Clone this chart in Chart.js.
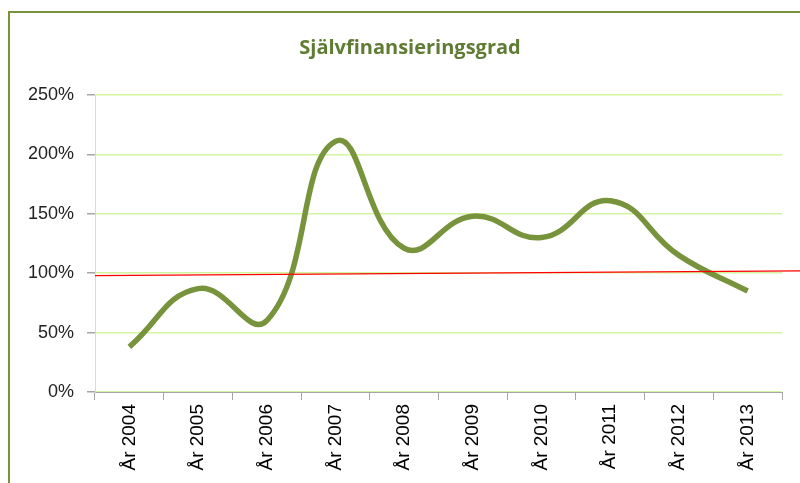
<!DOCTYPE html>
<html>
<head>
<meta charset="utf-8">
<script src="https://cdn.jsdelivr.net/npm/chart.js@4"></script>
<style>
  html, body { margin: 0; padding: 0; background: #fff; overflow: hidden; }
  #wrap { position: relative; width: 800px; height: 483px; }
  #frame { position: absolute; left: 8px; top: 11px; width: 900px; height: 600px;
           border-left: 2px solid #77933C; border-top: 2px solid #77933C; }
  canvas { position: absolute; left: 0; top: 0; }
</style>
</head>
<body>
<div id="wrap">
  <div id="frame"></div>
  <canvas id="chart" width="800" height="483"></canvas>
</div>
<script>
const years = ["År 2004", "År 2005", "År 2006", "År 2007", "År 2008", "År 2009", "År 2010", "År 2011", "År 2012", "År 2013"];
const grad = [38, 87, 60, 211, 121, 148, 130, 161, 115, 85];
// röd referenslinje: värde vid diagrammets vänsterkant och vid högerkanten av bilden
const refLine = [98, 102];
const yTicks = [0, 50, 100, 150, 200, 250];
const titleText = "Självfinansieringsgrad";

const refPlugin = {
  id: "refLine",
  afterDatasetsDraw(chart) {
    const ctx = chart.ctx;
    const y = chart.scales.y;
    ctx.save();
    ctx.strokeStyle = "#FF0000";
    ctx.lineWidth = 1.2;
    ctx.beginPath();
    ctx.moveTo(chart.chartArea.left, y.getPixelForValue(refLine[0]));
    ctx.lineTo(chart.width, y.getPixelForValue(refLine[1]));
    ctx.stroke();
    ctx.restore();
  }
};

// rubriken centreras över ramen, inte över diagramytan
const titlePlugin = {
  id: "frameTitle",
  afterDraw(chart) {
    const ctx = chart.ctx;
    ctx.save();
    ctx.fillStyle = "#5F7B34";
    ctx.font = "bold 20px 'Open Sans'";
    ctx.textAlign = "center";
    ctx.textBaseline = "middle";
    ctx.fillText(titleText, 410, 48);
    ctx.restore();
  }
};

new Chart(document.getElementById("chart"), {
  type: "line",
  data: {
    labels: years,
    datasets: [{
      label: titleText,
      data: grad,
      borderColor: "#77933C",
      borderWidth: 5.5,
      pointRadius: 0,
      tension: 0.45,
      fill: false
    }]
  },
  options: {
    responsive: false,
    animation: false,
    layout: { padding: { left: 0, right: 18, top: 95, bottom: 0 } },
    plugins: {
      legend: { display: false },
      tooltip: { enabled: false },
      title: { display: false }
    },
    scales: {
      x: {
        offset: true,
        afterFit: s => { s.height = 91; },
        grid: { offset: true, drawOnChartArea: false, drawTicks: true, tickLength: 8, color: "#A6A6A6" },
        border: { color: "#A6A6A6" },
        ticks: {
          minRotation: 90, maxRotation: 90, padding: 4, autoSkip: false,
          color: "#000", font: { family: "Liberation Sans", size: 19 }
        }
      },
      y: {
        min: 0, max: 250,
        afterFit: s => { s.width = 95; },
        afterBuildTicks: s => { s.ticks = yTicks.map(v => ({ value: v })); },
        grid: { color: "#D4F5A0", lineWidth: 1.5, tickColor: "#A6A6A6", tickLength: 8 },
        border: { color: "#D9D9D9" },
        ticks: {
          padding: 13, color: "#222",
          font: { family: "Liberation Sans", size: 18 },
          callback: v => v + "%"
        }
      }
    }
  },
  plugins: [refPlugin, titlePlugin]
});
</script>
</body>
</html>
